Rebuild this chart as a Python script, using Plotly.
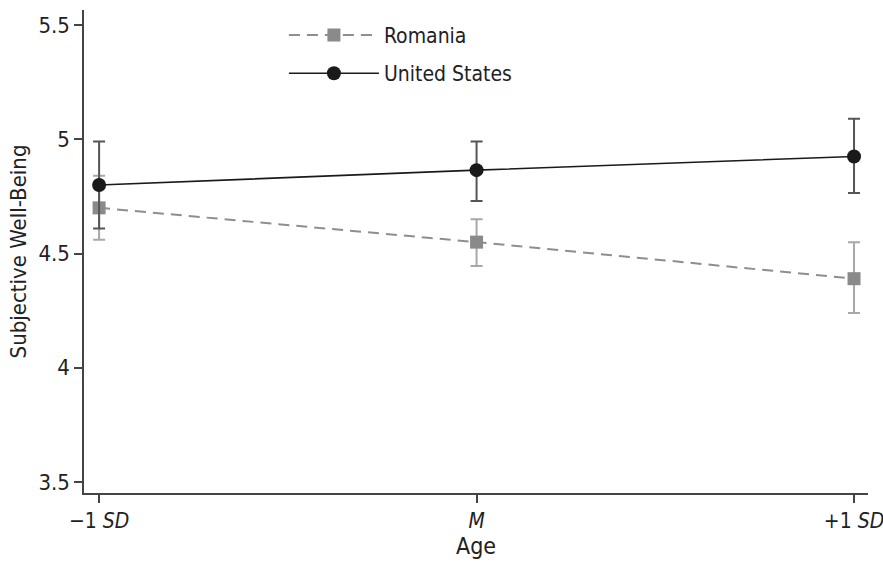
import plotly.graph_objects as go

categories = [0, 1, 2]
tick_labels = ["\u22121 <i>SD</i>", "<i>M</i>", "+1 <i>SD</i>"]

romania = [4.70, 4.55, 4.39]
romania_hi = [4.84, 4.65, 4.55]
romania_lo = [4.56, 4.445, 4.24]

us = [4.80, 4.865, 4.925]
us_hi = [4.99, 4.99, 5.09]
us_lo = [4.61, 4.73, 4.765]

FONT = "Liberation Sans Narrow, DejaVu Sans Condensed, Arial Narrow, sans-serif"

fig = go.Figure()
fig.add_trace(go.Scatter(
    x=categories, y=romania, name="Romania", mode="lines+markers",
    legendgroup="ro",
    line=dict(color="#8e8e8e", width=2, dash="11px,7px"),
    marker=dict(symbol="square", size=13, color="#8a8a8a"),
    error_y=dict(type="data", symmetric=False,
                 array=[h - v for h, v in zip(romania_hi, romania)],
                 arrayminus=[v - l for l, v in zip(romania_lo, romania)],
                 color="#a8a8a8", thickness=2, width=6),
))
fig.add_trace(go.Scatter(
    x=categories, y=us, name="United States", mode="lines+markers",
    legendgroup="us",
    line=dict(color="#1a1a1a", width=1.6),
    marker=dict(symbol="circle", size=14, color="#1a1a1a"),
    error_y=dict(type="data", symmetric=False,
                 array=[h - v for h, v in zip(us_hi, us)],
                 arrayminus=[v - l for l, v in zip(us_lo, us)],
                 color="#555555", thickness=2, width=6),
))

fig.update_layout(
    width=883, height=568,
    margin=dict(l=84, r=15, t=10, b=75),
    paper_bgcolor="white", plot_bgcolor="white",
    font=dict(family=FONT, size=22, color="#222222"),
    showlegend=True,
    legend=dict(x=0.255, y=0.99, xanchor="left", yanchor="top",
                font=dict(size=21, family=FONT, color="#222222"),
                bgcolor="rgba(0,0,0,0)", traceorder="grouped",
                tracegroupgap=8, itemwidth=90),
    xaxis=dict(range=[-0.04, 2.037], tickvals=categories, ticktext=tick_labels,
               showline=True, linecolor="#444444", linewidth=1.5,
               ticks="outside", ticklen=8, tickcolor="#444444", tickwidth=1.5,
               showgrid=False, zeroline=False, ticklabeloverflow="allow",
               automargin=False,
               title=dict(text="Age", font=dict(size=23, family=FONT), standoff=6),
               tickfont=dict(size=21, family=FONT)),
    yaxis=dict(range=[3.452, 5.566], tickvals=[3.5, 4, 4.5, 5, 5.5],
               ticktext=["3.5", "4", "4.5", "5", "5.5"],
               showline=True, linecolor="#444444", linewidth=1.5,
               ticks="outside", ticklen=8, tickcolor="#444444", tickwidth=1.5,
               showgrid=False, zeroline=False, automargin=False,
               title=dict(text="Subjective Well-Being", font=dict(size=22, family=FONT), standoff=6),
               tickfont=dict(size=22, family=FONT)),
)

fig.write_html("out.html")
